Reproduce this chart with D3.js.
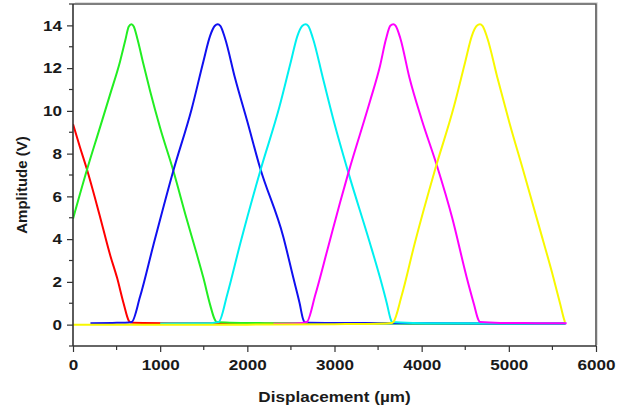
<!DOCTYPE html>
<html>
<head>
<meta charset="utf-8">
<script src="https://cdn.jsdelivr.net/npm/d3@7/dist/d3.min.js"></script>
<style>
  body { margin: 0; background: #fff; }
  svg { display: block; font-family: "Liberation Sans", Arial, sans-serif; }
</style>
</head>
<body>
<svg id="chart" width="623" height="414"></svg>
<script>
// ---- data ----
const xTicks = [0, 1000, 2000, 3000, 4000, 5000, 6000];
const yTicks = [0, 2, 4, 6, 8, 10, 12, 14];
const xTitle = "Displacement (\u00b5m)";
const yTitle = "Amplitude (V)";

const redData = [[0,9.38],[80,8.3],[157,7.3],[300,5.2],[430,3.2],[505,2.2],[580,1.0],[640,0.18],[660,0.1],[800,0.08],[1100,0.07],[1500,0.06],[2000,0.05],[2600,0.04],[3300,0.03]];
const greenData = [[0,4.95],[157,7.2],[300,9.1],[424,10.75],[539,12.3],[600,13.3],[640,13.95],[670,14.05],[697,13.95],[740,13.35],[807,12.2],[883,10.95],[1000,9.2],[1151,7.2],[1300,5.0],[1420,3.3],[1495,2.2],[1575,0.9],[1625,0.25],[1648,0.12],[1800,0.09],[2200,0.07],[2800,0.06],[3600,0.05],[4500,0.04],[5650,0.04]];
const blueData = [[200,0.06],[450,0.08],[600,0.09],[673,0.12],[769,1.3],[921,3.7],[1151,7.2],[1362,10.1],[1495,12.3],[1572,13.5],[1628,13.98],[1660,14.05],[1690,13.98],[1744,13.4],[1858,11.55],[2000,9.5],[2145,7.35],[2413,4.1],[2527,2.2],[2600,1.0],[2640,0.25],[2660,0.1],[2900,0.08],[3500,0.07],[4100,0.06],[5650,0.05]];
const cyanData = [[1000,0.05],[1400,0.06],[1600,0.08],[1672,0.12],[1769,1.4],[1919,3.8],[2149,7.2],[2369,10.2],[2499,12.3],[2574,13.5],[2632,13.98],[2669,14.05],[2698,13.98],[2752,13.4],[2866,11.55],[3000,9.4],[3160,7.1],[3400,3.9],[3522,2.2],[3600,1.0],[3645,0.25],[3660,0.12],[3900,0.08],[4400,0.06],[5000,0.05],[5650,0.05]];
const magentaData = [[2300,0.04],[2600,0.07],[2681,0.12],[2780,1.4],[2925,3.6],[3063,5.7],[3159,7.1],[3407,10.45],[3522,12.1],[3590,13.35],[3640,13.98],[3675,14.05],[3702,13.98],[3755,13.4],[3860,11.55],[4000,9.6],[4170,7.5],[4350,5.0],[4516,2.22],[4600,0.95],[4648,0.25],[4669,0.12],[4900,0.08],[5300,0.07],[5663,0.06]];
const yellowData = [[0,0.0],[1000,0.0],[2000,0.0],[3000,0.02],[3500,0.04],[3660,0.08],[3675,0.12],[3770,1.35],[3920,3.8],[4150,7.2],[4370,10.2],[4500,12.3],[4575,13.5],[4632,13.98],[4669,14.05],[4698,13.98],[4754,13.4],[4869,11.55],[5010,9.4],[5166,7.2],[5350,4.55],[5510,2.22],[5590,0.95],[5630,0.3],[5644,0.12]];

const seriesList = [
  { name: "red", color: "#ff0000", data: redData },
  { name: "green", color: "#22ee22", data: greenData },
  { name: "blue", color: "#1010f0", data: blueData },
  { name: "cyan", color: "#00f0f0", data: cyanData },
  { name: "magenta", color: "#ff00ff", data: magentaData },
  { name: "yellow", color: "#f8f800", data: yellowData }
];

// ---- layout ----
const svg = d3.select("#chart");
const mLeft = 73, mRight = 596, mTop = 4, mBottom = 346;
const stretch = 1.14;

const x = d3.scaleLinear().domain([0, 6000]).range([mLeft, mRight]);
const y = d3.scaleLinear().domain([-1, 15]).range([mBottom, mTop]);

// frame (top/right)
svg.append("path")
  .attr("d", `M${mLeft + 2},${mTop - 1.5}H${mRight + 1.5}V${mBottom - 1}`)
  .attr("fill", "none").attr("stroke", "#ddd").attr("stroke-width", 1);
svg.append("path")
  .attr("d", `M${mLeft},${mTop}H${mRight}V${mBottom}`)
  .attr("fill", "none").attr("stroke", "#555").attr("stroke-width", 1.6);

// clip
svg.append("clipPath").attr("id", "clip")
  .append("rect").attr("x", mLeft).attr("y", mTop).attr("width", mRight - mLeft).attr("height", mBottom - mTop);

const line = d3.line()
  .x(d => x(d[0])).y(d => y(d[1]))
  .curve(d3.curveMonotoneX);

const g = svg.append("g").attr("clip-path", "url(#clip)");
seriesList.forEach(s => {
  g.append("path")
    .datum(s.data)
    .attr("d", line)
    .attr("fill", "none")
    .attr("stroke", s.color)
    .attr("stroke-width", 2)
    .attr("stroke-linejoin", "round");
});

// minor ticks
const xMinor = d3.range(500, 6000, 1000);
const yMinor = d3.range(-1, 16, 2);

const xAxis = svg.append("g").attr("transform", `translate(0,${mBottom})`)
  .call(d3.axisBottom(x).tickValues(xTicks).tickSize(6).tickPadding(7.5).tickFormat(d3.format("d")));
const yAxis = svg.append("g").attr("transform", `translate(${mLeft},0)`)
  .call(d3.axisLeft(y).tickValues(yTicks).tickSize(6).tickPadding(3.6).tickFormat(d3.format("d")));

[xAxis, yAxis].forEach(a => {
  a.select(".domain").attr("stroke", "#333").attr("stroke-width", 1.6);
  a.selectAll(".tick line").attr("stroke", "#333").attr("stroke-width", 1.2);
  a.selectAll(".tick text").attr("fill", "#1a1a1a")
    .attr("transform", `scale(${stretch},1)`)
    .style("font-size", "15px").style("font-weight", "bold")
    .style("font-family", "'Liberation Sans', Arial, sans-serif");
});
xAxis.select(".domain").attr("d", `M${mLeft},0H${mRight}`);
yAxis.select(".domain").attr("d", `M0,${mBottom}V${mTop}`);

svg.append("g").selectAll("line").data(xMinor).join("line")
  .attr("x1", d => x(d)).attr("x2", d => x(d))
  .attr("y1", mBottom).attr("y2", mBottom + 4)
  .attr("stroke", "#333").attr("stroke-width", 1.2);
svg.append("g").selectAll("line").data(yMinor).join("line")
  .attr("x1", mLeft - 4).attr("x2", mLeft)
  .attr("y1", d => y(d)).attr("y2", d => y(d))
  .attr("stroke", "#333").attr("stroke-width", 1.2);

// titles
svg.append("text")
  .attr("transform", `translate(${(mLeft + mRight) / 2},402) scale(${stretch},1)`)
  .attr("text-anchor", "middle")
  .style("font-size", "15px").style("font-weight", "bold").attr("fill", "#1a1a1a")
  .text(xTitle);
svg.append("text")
  .attr("transform", `translate(27,185) rotate(-90)`)
  .attr("text-anchor", "middle")
  .style("font-size", "15px").style("font-weight", "bold").attr("fill", "#1a1a1a")
  .text(yTitle);
</script>
</body>
</html>
